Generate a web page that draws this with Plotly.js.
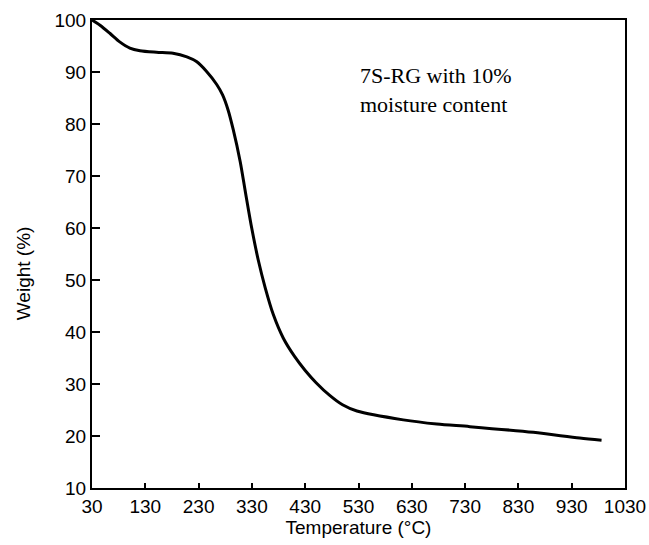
<!DOCTYPE html>
<html>
<head>
<meta charset="utf-8">
<script src="https://cdn.plot.ly/plotly-3.0.1.min.js"></script>
<style>html,body{margin:0;padding:0;background:#fff;}#chart{width:649px;height:545px;}</style>
</head>
<body>
<div id="chart"></div>
<script>
// Data
const temperature = [30, 45, 64, 82, 101, 120, 151, 182, 208, 226, 245, 264, 275, 285, 295, 308, 318, 330, 342, 355, 370, 389, 410, 430, 450, 476, 500, 527, 614, 677, 739, 858, 945, 986];
const weight      = [100, 99.0, 97.4, 95.8, 94.6, 94.1, 93.8, 93.6, 92.9, 92.0, 90.1, 87.6, 85.6, 82.8, 78.9, 72.8, 66.8, 59.8, 53.8, 48.5, 43.4, 38.8, 35.3, 32.6, 30.3, 27.8, 26.0, 24.8, 23.1, 22.3, 21.8, 20.7, 19.6, 19.2];
const xTicks = [30, 130, 230, 330, 430, 530, 630, 730, 830, 930, 1030];
const yTicks = [10, 20, 30, 40, 50, 60, 70, 80, 90, 100];
const xTitle = "Temperature (°C)";
const yTitle = "Weight (%)";
const noteText = "7S-RG with 10%<br>moisture content";

const sansFont = {family: "Liberation Sans, Arial, sans-serif", size: 19, color: "#000"};

const trace = {
  x: temperature,
  y: weight,
  type: "scatter",
  mode: "lines",
  line: {color: "#000", width: 3, shape: "spline", smoothing: 0.8},
  hoverinfo: "skip"
};

const layout = {
  width: 649,
  height: 545,
  margin: {l: 92, r: 24, t: 20, b: 57},
  paper_bgcolor: "#fff",
  plot_bgcolor: "#fff",
  showlegend: false,
  xaxis: {
    range: [30, 1030],
    tickmode: "array",
    tickvals: xTicks,
    ticktext: xTicks.map(String),
    ticks: "inside",
    ticklen: 5,
    tickwidth: 2,
    tickcolor: "#000",
    showline: true,
    linecolor: "#000",
    linewidth: 2,
    mirror: true,
    showgrid: false,
    zeroline: false,
    tickfont: sansFont,
    title: {text: xTitle, font: sansFont, standoff: 5}
  },
  yaxis: {
    range: [10, 100],
    tickmode: "array",
    tickvals: yTicks,
    ticktext: yTicks.map(String),
    ticks: "inside",
    ticklen: 8,
    tickwidth: 2,
    tickcolor: "#000",
    showline: true,
    linecolor: "#000",
    linewidth: 2,
    mirror: true,
    showgrid: false,
    zeroline: false,
    tickfont: sansFont
  },
  annotations: [
    {
      text: noteText,
      xref: "x", yref: "y",
      x: 529, y: 86.5,
      xanchor: "left", yanchor: "middle",
      align: "left",
      showarrow: false,
      font: {family: "Liberation Serif, Times New Roman, serif", size: 22, color: "#000"}
    },
    {
      text: yTitle,
      xref: "paper", yref: "y",
      x: 0, y: 51.3,
      xshift: -69,
      xanchor: "center", yanchor: "middle",
      textangle: -90,
      showarrow: false,
      font: sansFont
    }
  ]
};

Plotly.newPlot("chart", [trace], layout, {displayModeBar: false, staticPlot: true});
</script>
</body>
</html>
